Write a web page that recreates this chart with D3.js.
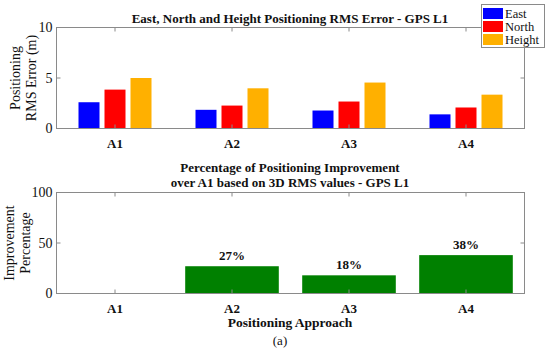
<!DOCTYPE html>
<html lang="en">
<head>
<meta charset="UTF-8">
<title>GPS L1 RMS Error</title>
<script src="https://cdnjs.cloudflare.com/ajax/libs/d3/7.8.5/d3.min.js"></script>
<style>
  body { margin: 0; padding: 0; background: #fff; }
  svg text { font-family: "Liberation Serif", serif; fill: #111; }
  .bold { font-weight: bold; }
</style>
</head>
<body>
<svg id="chart" width="550" height="350"></svg>
<script>
// data
const approaches = ["A1", "A2", "A3", "A4"];
const seriesNames = ["East", "North", "Height"];
const seriesColors = ["#0000ff", "#ff0000", "#ffb000"];
const eastRms = [2.6, 1.85, 1.78, 1.4];
const northRms = [3.85, 2.27, 2.67, 2.08];
const heightRms = [5.0, 3.98, 4.55, 3.35];
const improvement = [0, 27, 18, 38];
const topTicks = [0, 5, 10];
const bottomTicks = [0, 50, 100];

const svg = d3.select("#chart");
const left = 56.5, right = 524.5;
const axisColor = "#8a8a8a";

const x = d3.scaleLinear().domain([0.5, 4.5]).range([left, right]);

function drawFrame(g, y, ticks, top, bottom) {
  g.append("rect")
    .attr("x", left).attr("y", top)
    .attr("width", right - left).attr("height", bottom - top)
    .attr("fill", "none").attr("stroke", axisColor).attr("stroke-width", 1);
  approaches.forEach((a, i) => {
    const xx = x(i + 1);
    g.append("line").attr("x1", xx).attr("x2", xx).attr("y1", bottom).attr("y2", bottom - 4)
      .attr("stroke", axisColor);
    g.append("line").attr("x1", xx).attr("x2", xx).attr("y1", top).attr("y2", top + 4)
      .attr("stroke", axisColor);
    g.append("text").attr("class", "bold").attr("x", xx).attr("y", bottom + 19)
      .attr("text-anchor", "middle").attr("font-size", 13).text(a);
  });
  ticks.forEach(t => {
    const yy = y(t);
    g.append("line").attr("x1", left).attr("x2", left + 4).attr("y1", yy).attr("y2", yy).attr("stroke", axisColor);
    g.append("line").attr("x1", right).attr("x2", right - 4).attr("y1", yy).attr("y2", yy).attr("stroke", axisColor);
    g.append("text").attr("x", left - 4).attr("y", yy + 4.5)
      .attr("text-anchor", "end").attr("font-size", 14).text(t);
  });
}

// ---------- top chart ----------
const top1 = 27.5, bot1 = 128.5;
const y1 = d3.scaleLinear().domain([0, 10]).range([bot1, top1]);
const g1 = svg.append("g");
const rms = [eastRms, northRms, heightRms];
const barW = 21, step = 26;

rms.forEach((vals, s) => {
  g1.selectAll(null).data(vals).enter().append("rect")
    .attr("x", (d, i) => x(i + 1) - barW / 2 + (s - 1) * step)
    .attr("y", d => y1(d))
    .attr("width", barW)
    .attr("height", d => y1(0) - y1(d))
    .attr("fill", seriesColors[s]);
});
drawFrame(g1, y1, topTicks, top1, bot1);

g1.append("text").attr("class", "bold").attr("x", 290).attr("y", 23)
  .attr("text-anchor", "middle").attr("font-size", 13)
  .text("East, North and Height Positioning RMS Error - GPS L1");

const yl1 = g1.append("text").attr("font-size", 14)
  .attr("text-anchor", "middle")
  .attr("transform", `translate(20,${(top1 + bot1) / 2}) rotate(-90)`);
yl1.append("tspan").attr("x", 0).attr("dy", 0).text("Positioning");
yl1.append("tspan").attr("x", 0).attr("dy", 16).text("RMS Error (m)");

// legend
const lg = svg.append("g");
lg.append("rect").attr("x", 481.5).attr("y", 4.5).attr("width", 63).attr("height", 43)
  .attr("fill", "#fff").attr("stroke", axisColor);
seriesNames.forEach((n, i) => {
  lg.append("rect").attr("x", 483).attr("y", 8 + i * 13).attr("width", 20).attr("height", 11)
    .attr("fill", seriesColors[i]);
  lg.append("text").attr("x", 505).attr("y", 17.5 + i * 13).attr("font-size", 12.5).text(n);
});

// ---------- bottom chart ----------
const top2 = 192.5, bot2 = 293.5;
const y2 = d3.scaleLinear().domain([0, 100]).range([bot2, top2]);
const g2 = svg.append("g");
const bw = (x(2) - x(1)) * 0.8;

g2.selectAll(null).data(improvement).enter().append("rect")
  .attr("x", (d, i) => x(i + 1) - bw / 2)
  .attr("y", d => y2(d))
  .attr("width", bw)
  .attr("height", d => y2(0) - y2(d))
  .attr("fill", "#008000");

improvement.forEach((d, i) => {
  if (d <= 0) return;
  g2.append("text").attr("class", "bold")
    .attr("x", x(i + 1))
    .attr("y", y2(d) - 6)
    .attr("text-anchor", "middle").attr("font-size", 13)
    .text(d + "%");
});

drawFrame(g2, y2, bottomTicks, top2, bot2);

g2.append("text").attr("class", "bold").attr("x", 290).attr("y", 172)
  .attr("text-anchor", "middle").attr("font-size", 13)
  .text("Percentage of Positioning Improvement");
g2.append("text").attr("class", "bold").attr("x", 290).attr("y", 187)
  .attr("text-anchor", "middle").attr("font-size", 13)
  .text("over A1 based on 3D RMS values - GPS L1");

const yl2 = g2.append("text").attr("font-size", 14)
  .attr("text-anchor", "middle")
  .attr("transform", `translate(14,${(top2 + bot2) / 2}) rotate(-90)`);
yl2.append("tspan").attr("x", 0).attr("dy", 0).text("Improvement");
yl2.append("tspan").attr("x", 0).attr("dy", 16).text("Percentage");

g2.append("text").attr("class", "bold").attr("x", 290).attr("y", 327)
  .attr("text-anchor", "middle").attr("font-size", 13.5).text("Positioning Approach");

svg.append("text").attr("x", 280).attr("y", 345)
  .attr("text-anchor", "middle").attr("font-size", 13).text("(a)");
</script>
</body>
</html>
